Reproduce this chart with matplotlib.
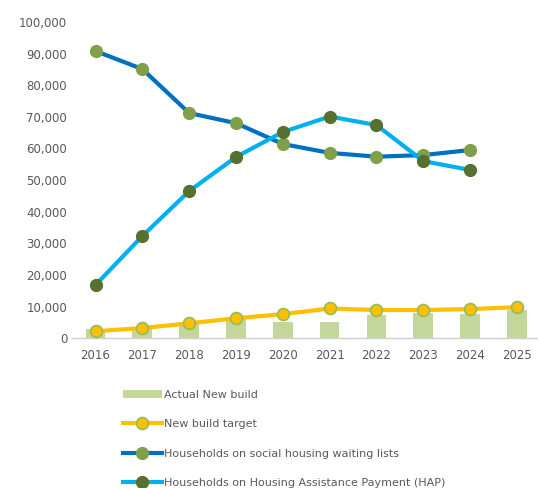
import numpy as np
import matplotlib.pyplot as plt
from matplotlib.ticker import FuncFormatter

# Social housing: new builds vs households waiting / on HAP
years = ["2016", "2017", "2018", "2019", "2020", "2021", "2022", "2023", "2024", "2025"]
actual_new_build = [2800, 3300, 4800, 6600, 5000, 5100, 7300, 7900, 7700, 8900]
new_build_target = [2200, 3200, 4700, 6300, 7600, 9400, 8900, 8900, 9200, 9800]
waiting_lists = [90800, 85100, 71200, 68000, 61400, 58600, 57400, 57900, 59500]
hap = [16800, 32300, 46500, 57300, 65200, 70100, 67400, 56000, 53200]

plt.rcParams["font.family"] = ["DejaVu Sans"]
txt = "#595959"

fig = plt.figure(figsize=(5.38, 4.88), dpi=100)
ax = fig.add_axes([0.134, 0.307, 0.866, 0.648])

x = np.arange(len(years))
bars = ax.bar(x, actual_new_build, width=0.42, color="#C4D79B", zorder=1)
l1, = ax.plot(x, new_build_target, color="#FFC000", lw=3, marker="o", ms=8.5,
              mfc="#FFC000", mec="#9BBB59", mew=1.3, zorder=3)
xw = np.arange(len(waiting_lists))
l2, = ax.plot(xw, waiting_lists, color="#0070C0", lw=3, marker="o", ms=8.5,
              mfc="#7F9F4A", mec="#7F9F4A", zorder=3)
l3, = ax.plot(xw, hap, color="#00B0F0", lw=3, marker="o", ms=8.5,
              mfc="#55702F", mec="#55702F", zorder=4)

ax.set_xlim(-0.5, 9.45)
ax.set_ylim(0, 100000)
ax.set_yticks(np.arange(0, 100001, 10000))
ax.yaxis.set_major_formatter(FuncFormatter(lambda v, p: f"{int(v):,}"))
ax.set_xticks(x)
ax.set_xticklabels(years)
ax.tick_params(length=0, labelsize=8.5, colors=txt)
ax.tick_params(axis="x", pad=8)
for s in ["top", "right", "left"]:
    ax.spines[s].set_visible(False)
ax.spines["bottom"].set_color("#D0D0D0")
ax.spines["bottom"].set_linewidth(1)

fig.legend([bars, l1, l2, l3],
           ["Actual New build", "New build target",
            "Households on social housing waiting lists",
            "Households on Housing Assistance Payment (HAP)"],
           loc="upper left", bbox_to_anchor=(0.218, 0.213), frameon=False,
           fontsize=8.05, labelcolor=txt, handlelength=3.5, handletextpad=0.2,
           labelspacing=1.75, borderpad=0)

fig.savefig("out.png", dpi=100)
